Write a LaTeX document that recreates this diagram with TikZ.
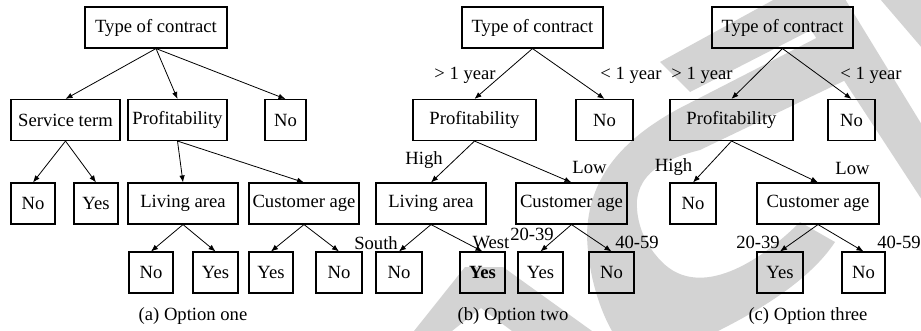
\documentclass[tikz,border=0pt]{standalone}
\usepackage{fontspec}
\setmainfont{Liberation Serif}
\usetikzlibrary{arrows.meta}
\definecolor{watermark}{RGB}{211,211,211}
\tikzstyle{orientedarc}=[-{Latex[length=7bp,width=5.5bp]},line width=0.8bp]
\tikzstyle{treeelement}=[draw,line width=1.1bp,inner sep=0pt,minimum height=41bp]
\tikzstyle{arclabel}=[inner sep=0pt]
\tikzstyle{optioncaption}=[inner sep=0pt]

\begin{document}
\begin{tikzpicture}[x=1bp,y=-1bp,font=\fontsize{18.7}{21}\selectfont]
\useasboundingbox (0,0) rectangle (921,330);

% background marks
\fill[watermark] (830,31) -- (680,108) .. controls (620,140) and (588,180) .. (587,235) .. controls (588,275) and (600,310) .. (612,331) -- (718,331) .. controls (760,310) and (810,280) .. (835,242) -- (800,222) .. controls (760,262) and (700,300) .. (662,262) .. controls (640,240) and (636,215) .. (637,200) .. controls (640,175) and (660,160) .. (700,150) -- (850,78) -- cycle;
\fill[watermark] (660,62) -- (775,-1) -- (845,-1) -- (922,125) -- (922,200) -- (811,30) -- (690,92) -- cycle;
\fill[watermark] (880,-1) -- (922,-1) -- (922,48) -- cycle;
\fill[watermark,even odd rule] (414,331) -- (465,267) -- (503,267) -- (592,331) -- cycle (452,331) -- (481,308) -- (512,331) -- cycle;

% option one
\node[treeelement,minimum width=142bp] (A0) at (156,27.5) {Type of contract};
\node[treeelement,minimum width=109bp] (A1) at (65.5,120) {Service term};
\node[treeelement,minimum width=99bp] (A2) at (177.5,120) {Profitability};
\node[treeelement,minimum width=41bp] (A3) at (285.5,120) {No};
\node[treeelement,minimum width=44bp] (A11) at (33,203.5) {No};
\node[treeelement,minimum width=44bp] (A12) at (96,203.5) {Yes};
\node[treeelement,minimum width=110bp] (A21) at (183,203.5) {Living area};
\node[treeelement,minimum width=110bp] (A22) at (304,203.5) {Customer age};
\node[treeelement,minimum width=44bp] (A211) at (151,272.5) {No};
\node[treeelement,minimum width=45bp] (A212) at (215.5,272.5) {Yes};
\node[treeelement,minimum width=44bp] (A221) at (271,272.5) {Yes};
\node[treeelement,minimum width=46bp] (A222) at (339,272.5) {No};
\node[optioncaption] (CA) at (193,316) {(a) Option one};

\draw[orientedarc] (A0.south) -- (A1.north);
\draw[orientedarc] (A0.south) -- (A2.north);
\draw[orientedarc] (A0.south) -- (A3.north);
\draw[orientedarc] (A1.south) -- (A11.north);
\draw[orientedarc] (A1.south) -- (A12.north);
\draw[orientedarc] (A2.south) -- (A21.north);
\draw[orientedarc] (A2.south) -- (A22.north);
\draw[orientedarc] (A21.south) -- (A211.north);
\draw[orientedarc] (A21.south) -- (A212.north);
\draw[orientedarc] (A22.south) -- (A221.north);
\draw[orientedarc] (A22.south) -- (A222.north);

% option two
\node[treeelement,minimum width=141bp] (B0) at (532.5,27.5) {Type of contract};
\node[treeelement,minimum width=123bp] (B1) at (474.5,120) {Profitability};
\node[treeelement,minimum width=57bp] (B2) at (604.5,120) {No};
\node[treeelement,minimum width=110bp] (B11) at (431,203.5) {Living area};
\node[treeelement,minimum width=111bp] (B12) at (571.5,203.5) {Customer age};
\node[treeelement,minimum width=46bp] (B111) at (399,272.5) {No};
\node[treeelement,minimum width=45bp] (B112) at (482.5,272.5) {\textbf{Yes}};
\node[treeelement,minimum width=45bp] (B121) at (540.5,272.5) {Yes};
\node[treeelement,minimum width=45bp] (B122) at (611.5,272.5) {No};
\node[optioncaption] (CB) at (513,316) {(b) Option two};

\draw[orientedarc] (B0.south) -- (B1.north);
\draw[orientedarc] (B0.south) -- (B2.north);
\draw[orientedarc] (B1.south) -- (B11.north);
\draw[orientedarc] (B1.south) -- (B12.north);
\draw[orientedarc] (B11.south) -- (B111.north);
\draw[orientedarc] (B11.south) -- (B112.north);
\draw[orientedarc] (B12.south) -- (B121.north);
\draw[orientedarc] (B12.south) -- (B122.north);

\node[arclabel] (LB1) at (465,75) {> 1 year};
\node[arclabel] (LB2) at (631,75) {< 1 year};
\node[arclabel] (LB3) at (424,160) {High};
\node[arclabel] (LB4) at (589.5,167) {Low};
\node[arclabel] (LB5) at (376,243) {South};
\node[arclabel] (LB6) at (491,243) {West};
\node[arclabel] (LB7) at (532,234) {20-39};
\node[arclabel] (LB8) at (637,242) {40-59};

% option three
\node[treeelement,minimum width=141bp] (C0) at (782.5,27.5) {Type of contract};
\node[treeelement,minimum width=123bp] (C1) at (731.5,120) {Profitability};
\node[treeelement,minimum width=47bp] (C2) at (851.5,120) {No};
\node[treeelement,minimum width=46bp] (C11) at (693,203.5) {No};
\node[treeelement,minimum width=122bp] (C12) at (818,203.5) {Customer age};
\node[treeelement,minimum width=46bp] (C121) at (780,272.5) {Yes};
\node[treeelement,minimum width=43bp] (C122) at (863.5,272.5) {No};
\node[optioncaption] (CC) at (808,316) {(c) Option three};

\draw[orientedarc] (C0.south) -- (C1.north);
\draw[orientedarc] (C0.south) -- (C2.north);
\draw[orientedarc] (C1.south) -- (C11.north);
\draw[orientedarc] (C1.south) -- (C12.north);
\draw[orientedarc] (C12.south) -- (C121.north);
\draw[orientedarc] (C12.south) -- (C122.north);

\node[arclabel] (LC1) at (702,75) {> 1 year};
\node[arclabel] (LC2) at (871,75) {< 1 year};
\node[arclabel] (LC3) at (673.5,167) {High};
\node[arclabel] (LC4) at (852.5,168) {Low};
\node[arclabel] (LC5) at (758,242) {20-39};
\node[arclabel] (LC6) at (899,242) {40-59};

\end{tikzpicture}
\end{document}
